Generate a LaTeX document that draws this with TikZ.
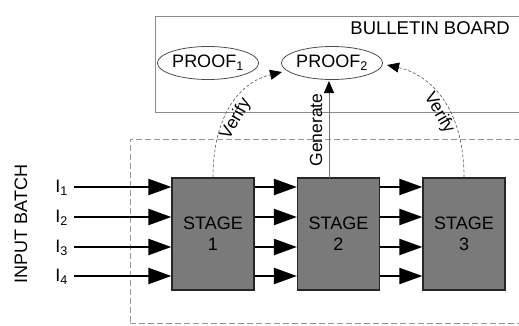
\documentclass[tikz,border=0pt]{standalone}
\usepackage{fontspec}
\setmainfont{Liberation Sans}
\usetikzlibrary{arrows.meta,shapes.geometric}
\begin{document}
\begin{tikzpicture}[x=1pt,y=-1pt,
  stagebox/.style={draw=black!85,line width=1.2pt,fill=black!52,minimum width=82pt,minimum height=112pt,inner sep=0pt,align=center,font=\fontsize{18}{21}\selectfont},
  proofnode/.style={ellipse,draw=black!70,line width=0.8pt,minimum width=99pt,minimum height=33pt,inner sep=0pt,font=\fontsize{18}{20}\selectfont},
  bigarrow/.style={line width=2.2pt,-{Triangle[length=23pt,width=16pt]}},
  verifyarrow/.style={black!60,dashed,dash pattern=on 3pt off 2pt,line width=0.7pt,-{Triangle[length=12pt,width=10pt,fill=black,color=black]}},
  lbl/.style={font=\fontsize{18}{20}\selectfont,inner sep=0pt},
  slbl/.style={font=\fontsize{17.5}{19}\selectfont,inner sep=0pt}
]
\clip (0,0) rectangle (519,325);
% bulletin board
\node[draw=black!45,line width=0.8pt,minimum width=375pt,minimum height=96pt,inner sep=0pt,anchor=north west] (board) at (155,16) {};
\node[lbl,anchor=east,font=\fontsize{18.5}{20}\selectfont] (bbl) at (510,28) {BULLETIN BOARD};
\node[proofnode] (p1) at (208,63) {PROOF\textsubscript{1}};
\node[proofnode] (p2) at (332,63) {PROOF\textsubscript{2}};
% dashed frame
\node[draw=black!40,dashed,dash pattern=on 6pt off 3pt,line width=0.8pt,minimum width=400pt,minimum height=184pt,inner sep=0pt,anchor=north west] (frame) at (130,139) {};
% stages
\node[stagebox] (s1) at (213,234) {STAGE\\1};
\node[stagebox] (s2) at (338.5,234) {STAGE\\2};
\node[stagebox] (s3) at (464,234) {STAGE\\3};
% inputs
\node[lbl,rotate=90] (ib) at (21,224) {INPUT BATCH};
\foreach \k/\y in {1/187,2/217,3/247,4/276}{
  \coordinate (i\k) at (74,\y);
  \node[lbl,anchor=east] (il\k) at (68,\y+1) {I\textsubscript{\k}};
  \draw[bigarrow] (i\k) -- (i\k -| s1.west);
  \draw[bigarrow] (s1.east |- i\k) -- (s2.west |- i\k);
  \draw[bigarrow] (s2.east |- i\k) -- (s3.west |- i\k);
}
% generate
\coordinate (g) at (329,178);
\coordinate (gt) at (329,81);
\draw[black!55,line width=0.8pt,-{Triangle[length=12pt,width=10pt,fill=black,color=black]}] (g) -- (gt);
\node[slbl,rotate=90] (gl) at (316,130) {Generate};
% verify
\coordinate (vl) at (282,72);
\coordinate (vr) at (387,65);
\draw[verifyarrow] (s1.north) .. controls (213,115) and (240,82) .. (vl);
\draw[verifyarrow] (s3.north) .. controls (464,110) and (432,75) .. (vr);
\node[slbl,rotate=60] (vll) at (236,119) {Verify};
\node[slbl,rotate=-60] (vrl) at (439,113) {Verify};
\end{tikzpicture}
\end{document}
